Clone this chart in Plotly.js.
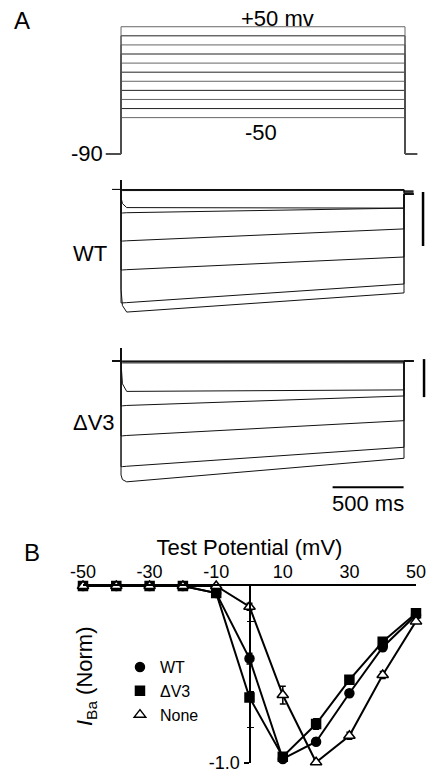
<!DOCTYPE html>
<html>
<head>
<meta charset="utf-8">
<script src="https://cdn.plot.ly/plotly-3.0.1.min.js"></script>
<style>html,body{margin:0;padding:0;background:#fff;}#chart{width:430px;height:774px;}</style>
</head>
<body>
<div id="chart"></div>
<script>
// ---------- Panel A: voltage protocol ----------
const protoTime = [-106, 0, 0, 2000, 2000, 2085];          // ms
const holdingV = -90;                                        // mV
const stepV = [-50, -40, -30, -20, -10, 0, 10, 20, 30, 40, 50]; // mV

// ---------- Panel A: current sweeps (nA) ----------
// sample times: pre, onset, capacitive spike, onset, early, peak, end, repol, tail
const sweepTime = [-63, 0, 0, 0, 10, 40, 1993, 1993, 2060];
const wtSweeps = [
  [0, 0, 0.35, 0, 0, 0, 0, -0.05, -0.05],
  [0, 0, 0.35, -0.01, -0.01, -0.01, -0.01, -0.08, -0.08],
  [0, 0, 0.35, -0.02, -0.02, -0.02, -0.02, -0.12, -0.12],
  [0, 0, 0.35, -0.04, -0.04, -0.04, -0.03, -0.17, -0.17],
  [0, 0, 0.35, -0.3, -0.52, -0.67, -0.69, -0.17, -0.17],
  [0, 0, 0.35, -0.87, -0.87, -0.86, -0.69, -0.17, -0.17],
  [0, 0, 0.35, -1.91, -1.91, -1.9, -1.46, -0.17, -0.17],
  [0, 0, 0.35, -2.98, -2.98, -2.97, -2.5, -0.17, -0.17],
  [0, 0, 0.35, -4.2, -4.2, -4.19, -3.5, -0.17, -0.17],
  [0, 0, 0.35, -3.7, -4.3, -4.54, -3.83, -0.17, -0.17]
];
const dv3Sweeps = [
  [0, 0, 0.34, 0, 0, 0, 0, 0, 0],
  [0, 0, 0.34, -0.01, -0.01, -0.01, -0.01, 0, 0],
  [0, 0, 0.34, -0.02, -0.02, -0.02, -0.02, 0, 0],
  [0, 0, 0.34, -0.05, -0.05, -0.05, -0.05, 0, 0],
  [0, 0, 0.34, -0.05, -0.6, -0.8, -0.76, 0, 0],
  [0, 0, 0.34, -1.18, -1.18, -1.17, -0.92, 0, 0],
  [0, 0, 0.34, -1.97, -1.97, -1.96, -1.57, 0, 0],
  [0, 0, 0.34, -2.78, -2.78, -2.77, -2.27, 0, 0],
  [0, 0, 0.34, -3.0, -3.12, -3.18, -2.56, 0, 0]
];
// scale bars
const wtBarT = [2127, 2127], wtBarI = [-0.09, -2.09];       // 2 nA
const dv3BarT = [2134, 2134], dv3BarI = [0.05, -0.95];      // 1 nA
const timeBarT = [1490, 1990], timeBarI = [-3.32, -3.32];   // 500 ms

// ---------- Panel B: I-V relation ----------
const testPotential = [-50, -40, -30, -20, -10, 0, 10, 20, 30, 40, 50];
const wtIV   = [0, 0, 0, 0, -0.04, -0.41, -0.977, -0.88, -0.606, -0.346, -0.164];
const dv3IV  = [0, 0, 0, 0, -0.04, -0.63, -0.964, -0.78, -0.53, -0.315, -0.154];
const noneIV = [0, 0, 0, 0, 0, -0.117, -0.616, -0.996, -0.846, -0.503, -0.2];
const wtErr   = [0, 0, 0, 0, 0.01, 0.03, 0.01, 0.02, 0.02, 0.02, 0.01];
const dv3Err  = [0, 0, 0, 0, 0.01, 0.02, 0.01, 0.03, 0.02, 0.02, 0.01];
const noneErr = [0, 0, 0, 0, 0.01, 0.02, 0.05, 0.015, 0.02, 0.02, 0.01];
const ivTickVals = [-50, -30, -10, 10, 30, 50];
const ivTickText = ['-50', '-30', '-10', '10', '30', '50'];
const normTickVals = [-0.8, -0.6, -0.4, -0.2];
const seriesNames = ['WT', '\u0394V3', 'None'];

const FONT = 'Liberation Sans, Arial, sans-serif';
const traces = [];

stepV.forEach((v, i) => {
  traces.push({
    x: protoTime, y: [holdingV, holdingV, v, v, holdingV, holdingV],
    xaxis: 'x', yaxis: 'y', mode: 'lines', showlegend: false, hoverinfo: 'skip',
    line: {color: i % 2 ? '#222' : '#666', width: 1}
  });
});
wtSweeps.forEach(s => traces.push({
  x: sweepTime, y: s, xaxis: 'x', yaxis: 'y2', mode: 'lines', showlegend: false,
  hoverinfo: 'skip', line: {color: '#111', width: 1}
}));
dv3Sweeps.forEach(s => traces.push({
  x: sweepTime, y: s, xaxis: 'x', yaxis: 'y3', mode: 'lines', showlegend: false,
  hoverinfo: 'skip', line: {color: '#111', width: 1}
}));
traces.push({x: wtBarT, y: wtBarI, xaxis: 'x', yaxis: 'y2', mode: 'lines', showlegend: false, line: {color: '#000', width: 2.5}});
traces.push({x: dv3BarT, y: dv3BarI, xaxis: 'x', yaxis: 'y3', mode: 'lines', showlegend: false, line: {color: '#000', width: 2.5}});
traces.push({x: timeBarT, y: timeBarI, xaxis: 'x', yaxis: 'y3', mode: 'lines', showlegend: false, line: {color: '#000', width: 2}});

const ivSets = [
  {y: wtIV, e: wtErr, sym: 'circle', fill: '#000'},
  {y: dv3IV, e: dv3Err, sym: 'square', fill: '#000'},
  {y: noneIV, e: noneErr, sym: 'triangle-up', fill: '#fff'}
];
ivSets.forEach((d, k) => {
  traces.push({
    x: testPotential, y: d.y, xaxis: 'x5', yaxis: 'y5', mode: 'lines+markers',
    name: seriesNames[k], showlegend: false, cliponaxis: false,
    line: {color: '#000', width: 2},
    marker: {symbol: d.sym, size: d.sym === 'triangle-up' ? 10 : 9, color: d.fill, line: {color: '#000', width: 1.5}},
    error_y: {type: 'data', array: d.e, visible: true, color: '#000', thickness: 1.5, width: 3}
  });
});
ivSets.forEach((d, k) => {
  traces.push({
    x: [null], y: [null], xaxis: 'x5', yaxis: 'y5', mode: 'markers', name: seriesNames[k],
    showlegend: true,
    marker: {symbol: d.sym, size: d.sym === 'triangle-up' ? 10 : 9, color: d.fill, line: {color: '#000', width: 1.5}}
  });
});
traces.push({x: [null], y: [null], xaxis: 'x5', yaxis: 'y6', mode: 'markers', showlegend: false, hoverinfo: 'skip'});
traces.push({x: [null], y: [null], xaxis: 'x5', yaxis: 'y7', mode: 'markers', showlegend: false, hoverinfo: 'skip'});

const hidden = {visible: false, fixedrange: true, showgrid: false, zeroline: false};
const ivDomain = [0.014212, 0.242894];
const yPos = 249.5 / 430;
const layout = {
  width: 430, height: 774,
  margin: {l: 0, r: 0, t: 0, b: 0},
  paper_bgcolor: '#fff', plot_bgcolor: 'rgba(0,0,0,0)',
  font: {family: FONT, color: '#000', size: 18},
  showlegend: true,
  legend: {x: 0.279, y: 0.16, xanchor: 'left', yanchor: 'top', bgcolor: 'rgba(0,0,0,0)',
           font: {family: FONT, size: 16, color: '#000'}, tracegroupgap: 0, itemwidth: 30},
  xaxis: Object.assign({}, hidden, {domain: [100/430, 1], range: [-148, 2176]}),
  yaxis: Object.assign({}, hidden, {domain: [0.78929, 0.97720], range: [-100, 60], anchor: 'x'}),
  yaxis2: Object.assign({}, hidden, {domain: [0.56331, 0.77959], range: [-5.5, 0.7], anchor: 'x'}),
  yaxis3: Object.assign({}, hidden, {domain: [0.33475, 0.56059], range: [-4.05, 0.55], anchor: 'x'}),
  xaxis5: {
    domain: [83/430, 416/430], range: [-50, 50], anchor: 'y5', side: 'top',
    showline: true, linecolor: '#000', linewidth: 2, showgrid: false, zeroline: false,
    tickvals: ivTickVals, ticktext: ivTickText, ticks: '', ticklabelstandoff: -1,
    tickfont: {family: FONT, size: 18, color: '#000'},
    title: {text: 'Test Potential (mV)', font: {family: FONT, size: 22, color: '#000'}, standoff: 0},
    fixedrange: true
  },
  yaxis5: {
    domain: ivDomain, range: [-1, 0], anchor: 'free', position: yPos,
    showline: true, linecolor: '#000', linewidth: 2, showgrid: false, zeroline: false,
    tickvals: [-1], ticktext: ['-1.0'],
    ticks: 'outside', ticklen: 5, tickwidth: 1.5, tickcolor: '#000',
    tickfont: {family: FONT, size: 18, color: '#000'}, fixedrange: true
  },
  yaxis6: {
    domain: ivDomain, range: [-1, 0], anchor: 'free', position: yPos,
    overlaying: 'y5', showline: false, showgrid: false, zeroline: false, showticklabels: false,
    tickvals: normTickVals, ticks: 'outside', ticklen: 3, tickwidth: 1.5, tickcolor: '#000', fixedrange: true
  },
  yaxis7: {
    domain: ivDomain, range: [-1, 0], anchor: 'free', position: yPos,
    overlaying: 'y5', showline: false, showgrid: false, zeroline: false, showticklabels: false,
    tickvals: normTickVals, ticks: 'inside', ticklen: 3, tickwidth: 1.5, tickcolor: '#000', fixedrange: true
  },
  annotations: [
    {text: 'A', xref: 'paper', yref: 'paper', x: 22/430, y: 1 - 20/774, xanchor: 'center', yanchor: 'middle', showarrow: false, font: {family: FONT, size: 24}},
    {text: 'B', xref: 'paper', yref: 'paper', x: 32/430, y: 1 - 552/774, xanchor: 'center', yanchor: 'middle', showarrow: false, font: {family: FONT, size: 24}},
    {text: '+50 mv', xref: 'x', yref: 'y', x: 1099, y: 59.5, xanchor: 'center', yanchor: 'middle', showarrow: false, font: {family: FONT, size: 22}},
    {text: '-50', xref: 'x', yref: 'y', x: 986, y: -66.9, xanchor: 'center', yanchor: 'middle', showarrow: false, font: {family: FONT, size: 22}},
    {text: '-90', xref: 'paper', yref: 'y', x: 105/430, y: -90, xanchor: 'right', yanchor: 'middle', showarrow: false, font: {family: FONT, size: 22}},
    {text: 'WT', xref: 'paper', yref: 'paper', x: 89.5/430, y: 1 - 253/774, xanchor: 'center', yanchor: 'middle', showarrow: false, font: {family: FONT, size: 22}},
    {text: '\u0394V3', xref: 'paper', yref: 'paper', x: 94/430, y: 1 - 422/774, xanchor: 'center', yanchor: 'middle', showarrow: false, font: {family: FONT, size: 22}},
    {text: '500 ms', xref: 'x', yref: 'y3', x: 1740, y: -3.74, xanchor: 'center', yanchor: 'middle', showarrow: false, font: {family: FONT, size: 22}},
    {text: '<i>I</i><sub>Ba</sub> (Norm)', xref: 'paper', yref: 'paper', x: 86/430, y: 1 - 676/774, xanchor: 'center', yanchor: 'middle', textangle: -90, showarrow: false, font: {family: FONT, size: 22}}
  ]
};

Plotly.newPlot('chart', traces, layout, {staticPlot: true, displayModeBar: false});
</script>
</body>
</html>
